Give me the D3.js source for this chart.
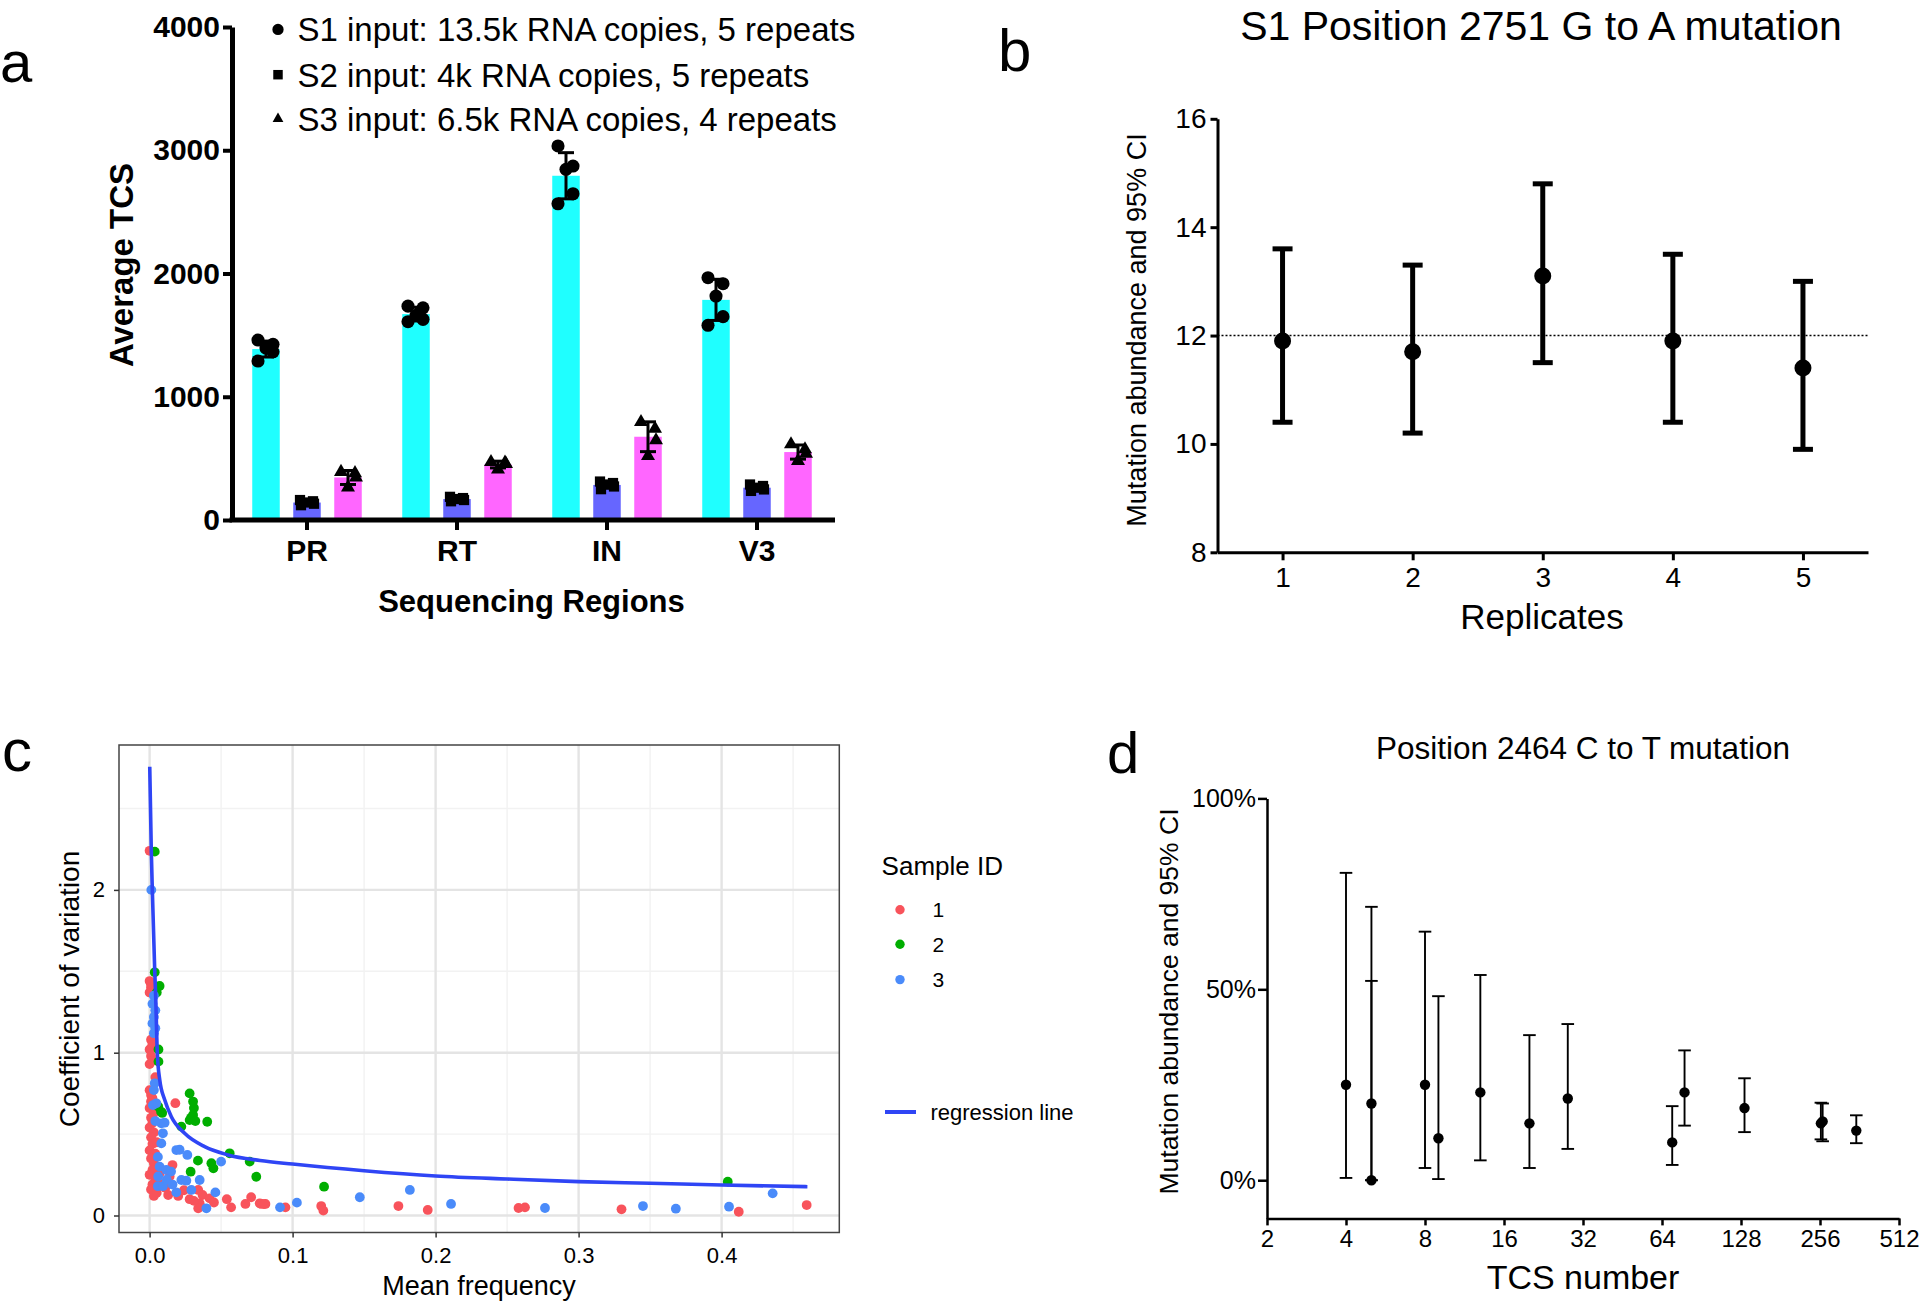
<!DOCTYPE html>
<html><head><meta charset="utf-8">
<script src="https://cdn.jsdelivr.net/npm/d3@7"></script>
<style>
body{margin:0;background:#fff}
svg{display:block}
text{font-family:"Liberation Sans",Arial,Helvetica,sans-serif;fill:#000}
</style>
</head><body>
<svg id="chart" width="1920" height="1305"></svg>
<script>
// ===================== DATA =====================
// Panel a
const regions = ["PR", "RT", "IN", "V3"];
const seriesA = ["S1", "S2", "S3"];
const legendA = ["S1 input: 13.5k RNA copies, 5 repeats",
                 "S2 input: 4k RNA copies, 5 repeats",
                 "S3 input: 6.5k RNA copies, 4 repeats"];
const s1Reps = [[1460, 1425, 1395, 1365, 1290], [1735, 1722, 1660, 1628, 1609],
                [3035, 2872, 2845, 2647, 2566], [1966, 1917, 1817, 1650, 1580]];
const s2Reps = [[162, 152, 142, 132, 120], [188, 178, 170, 162, 152],
                [312, 300, 288, 272, 250], [288, 276, 262, 248, 236]];
const s3Reps = [[390, 380, 345, 265], [470, 465, 455, 410],
                [795, 741, 647, 519], [614, 574, 538, 479]];
const yTicksA = [0, 1000, 2000, 3000, 4000];

// Panel b
const replicates = [1, 2, 3, 4, 5];
const abundB = [11.9, 11.7, 13.1, 11.9, 11.4];
const lowB   = [10.4, 10.2, 11.5, 10.4, 9.9];
const highB  = [13.6, 13.3, 14.8, 13.5, 13.0];
const refLineB = 12;
const yTicksB = [8, 10, 12, 14, 16];

// Panel c  [mean frequency, coefficient of variation]
const sample1 = [[0.000,2.24],[0.000,1.44],[0.001,1.40],[0.000,1.37],[0.001,1.42],
  [0.001,1.08],[0.002,1.05],[0.000,1.02],[0.001,0.98],[0.002,0.95],[0.000,0.93],
  [0.000,0.77],[0.001,0.74],[0.002,0.72],[0.001,0.70],[0.000,0.66],[0.003,0.63],
  [0.001,0.60],[0.002,0.57],[0.000,0.54],[0.003,0.51],[0.001,0.48],[0.002,0.44],
  [0.000,0.40],[0.004,0.38],[0.001,0.35],[0.003,0.32],[0.002,0.28],[0.000,0.25],
  [0.004,0.22],[0.002,0.19],[0.001,0.16],[0.005,0.14],[0.003,0.12],[0.006,0.20],
  [0.007,0.26],[0.018,0.69],[0.013,0.126],[0.020,0.12],[0.016,0.31],[0.014,0.24],
  [0.011,0.17],[0.034,0.157],[0.037,0.126],[0.035,0.075],[0.034,0.044],[0.042,0.105],
  [0.054,0.10],[0.057,0.05],[0.067,0.071],[0.071,0.112],[0.077,0.075],[0.080,0.07],
  [0.078,0.071],[0.081,0.071],[0.095,0.05],[0.120,0.058],[0.1215,0.030],[0.174,0.058],
  [0.1945,0.034],[0.258,0.046],[0.2625,0.05],[0.330,0.038],[0.412,0.023],[0.4595,0.064],
  [0.024,0.155],[0.028,0.10],[0.031,0.09],[0.045,0.08],[0.005,0.45],[0.004,0.85]];
const sample2 = [[0.0036,2.235],[0.0036,1.494],[0.007,1.41],[0.005,1.37],[0.0062,1.02],
  [0.0062,0.945],[0.008,0.638],[0.028,0.75],[0.0304,0.70],[0.031,0.66],[0.0304,0.617],
  [0.028,0.586],[0.029,0.60],[0.032,0.58],[0.0403,0.576],[0.0222,0.546],[0.0338,0.337],
  [0.0432,0.321],[0.0446,0.29],[0.056,0.382],[0.070,0.331],[0.0746,0.238],[0.0287,0.269],
  [0.122,0.177],[0.4043,0.208],[0.006,0.67],[0.0088,0.63]];
const sample3 = [[0.0012,2.0],[0.003,1.35],[0.002,1.30],[0.004,1.26],[0.003,1.22],
  [0.002,1.18],[0.004,1.15],[0.003,1.12],[0.0036,0.812],[0.003,0.771],[0.0047,0.689],
  [0.0023,0.678],[0.0082,0.566],[0.0105,0.57],[0.0093,0.505],[0.0082,0.443],[0.0187,0.402],
  [0.021,0.404],[0.0264,0.372],[0.050,0.331],[0.0058,0.36],[0.007,0.30],[0.0117,0.28],
  [0.015,0.27],[0.0058,0.18],[0.0093,0.18],[0.0222,0.218],[0.0257,0.214],[0.035,0.218],
  [0.0292,0.157],[0.0187,0.142],[0.046,0.142],[0.0397,0.044],[0.0912,0.05],[0.103,0.079],
  [0.147,0.112],[0.182,0.157],[0.2108,0.071],[0.2765,0.046],[0.345,0.058],[0.368,0.042],
  [0.4052,0.054],[0.4357,0.136],[0.006,0.24],[0.004,0.58],[0.012,0.22],[0.016,0.19]];
const regressionC = [[0.0001,2.757],[0.0012,2.235],[0.0019,2.0],[0.0036,1.50],[0.0042,1.36],
  [0.0054,0.996],[0.0071,0.832],[0.0106,0.709],[0.0152,0.607],[0.0245,0.505],[0.0385,0.423],
  [0.0548,0.372],[0.0772,0.338],[0.1,0.316],[0.15,0.275],[0.2,0.243],[0.25,0.224],
  [0.3,0.208],[0.35,0.198],[0.4,0.187],[0.46,0.177]];
const sampleIds = ["1", "2", "3"];
const xTicksC = [0, 0.1, 0.2, 0.3, 0.4];
const yTicksC = [0, 1, 2];

// Panel d
const tcsD   = [4, 5, 5, 8, 9, 13, 20, 28, 70, 78, 132, 258, 262, 352];
const abundD = [25, 20.1, 0, 25, 11, 23, 14.9, 21.4, 9.9, 23, 18.9, 14.9, 15.4, 13];
const lowD   = [0.6, 0, 0, 3.2, 0.3, 5.2, 3.2, 8.2, 4, 14.3, 12.6, 10.7, 10.2, 9.7];
const highD  = [80.5, 71.6, 52.2, 65.1, 48.2, 53.75, 38, 40.9, 19.4, 34, 26.7, 20.3, 20.1, 17];
const xTicksD = [2, 4, 8, 16, 32, 64, 128, 256, 512];
const yTicksD = [0, 50, 100];

// ===================== DRAWING =====================
const svg = d3.select("#chart");

function styleAxis(g, opts) {
  g.select(".domain").attr("stroke", opts.color || "#000").attr("stroke-width", opts.domainW);
  g.selectAll(".tick line").attr("stroke", opts.color || "#000").attr("stroke-width", opts.tickW);
  g.selectAll(".tick text").attr("font-family", null).attr("font-size", opts.fontSize)
    .attr("font-weight", opts.bold ? "bold" : "normal").attr("fill", opts.textColor || "#000");
}
function label(t, x, y, size, opts = {}) {
  return svg.append("text").attr("x", x).attr("y", y).attr("font-size", size)
    .attr("text-anchor", opts.anchor || "middle")
    .attr("font-weight", opts.bold ? "bold" : "normal")
    .attr("fill", opts.fill || "#000").text(t);
}
function vlabel(t, cx, cy, size, opts = {}) {
  return svg.append("text").attr("transform", `translate(${cx},${cy}) rotate(-90)`)
    .attr("y", size * 0.36).attr("font-size", size).attr("text-anchor", "middle")
    .attr("font-weight", opts.bold ? "bold" : "normal").attr("fill", opts.fill || "#000").text(t);
}

// ---------- Panel a ----------
(function () {
  const g = svg.append("g");
  const xA = d3.scaleBand().domain(regions).range([232, 832]);
  const xSub = d3.scaleBand().domain(seriesA).range([-61.5, 61.5]).paddingInner(0.329).paddingOuter(0.1645);
  const yA = d3.scaleLinear().domain([0, 4000]).range([520, 27]);
  const colors = { S1: "#1FFFFF", S2: "#6666FF", S3: "#FF66FF" };
  const reps = { S1: s1Reps, S2: s2Reps, S3: s3Reps };
  const symbols = { S1: d3.symbol(d3.symbolCircle, 135), S2: d3.symbol(d3.symbolSquare, 105), S3: d3.symbol(d3.symbolTriangle, 85) };
  const offsets = { S1: [-8, 7, 0, 7, -8], S2: [-7, 6, 0, 7, -6], S3: [-7, 7, 8, 0] };

  regions.forEach((r, i) => {
    const cx0 = xA(r) + xA.bandwidth() / 2;
    seriesA.forEach(s => {
      const vals = reps[s][i];
      const m = d3.mean(vals), sd = d3.deviation(vals);
      const x0 = cx0 + xSub(s), cx = x0 + xSub.bandwidth() / 2;
      g.append("rect").attr("x", x0).attr("width", xSub.bandwidth())
        .attr("y", yA(m)).attr("height", yA(0) - yA(m)).attr("fill", colors[s]);
      const eb = g.append("g").attr("stroke", "#000").attr("stroke-width", 3);
      eb.append("line").attr("x1", cx).attr("x2", cx).attr("y1", yA(m - sd)).attr("y2", yA(m + sd));
      [m - sd, m + sd].forEach(v => eb.append("line").attr("x1", cx - 8).attr("x2", cx + 8).attr("y1", yA(v)).attr("y2", yA(v)));
      const sorted = vals.slice().sort((a, b) => b - a);
      sorted.forEach((v, k) => {
        g.append("path").attr("d", symbols[s]())
          .attr("transform", `translate(${cx + offsets[s][k]},${yA(v)})`).attr("fill", "#000");
      });
    });
  });

  const ay = g.append("g").attr("transform", "translate(232,0)")
    .call(d3.axisLeft(yA).tickValues(yTicksA).tickFormat(d3.format("d")).tickSize(9).tickPadding(3).tickSizeOuter(0));
  styleAxis(ay, { domainW: 5, tickW: 4, fontSize: 30, bold: true });
  const ax = g.append("g").attr("transform", "translate(0,520)")
    .call(d3.axisBottom(xA).tickSize(10).tickPadding(10).tickSizeOuter(0));
  ax.select(".domain").remove();
  styleAxis(ax, { domainW: 5, tickW: 4, fontSize: 30, bold: true });
  g.append("line").attr("x1", 229.5).attr("x2", 835).attr("y1", 520).attr("y2", 520)
    .attr("stroke", "#000").attr("stroke-width", 5);

  const legY = [29.4, 74.7, 118.8];
  seriesA.forEach((s, k) => {
    const sym = { S1: d3.symbol(d3.symbolCircle, 100), S2: d3.symbol(d3.symbolSquare, 90), S3: d3.symbol(d3.symbolTriangle, 50) }[s];
    g.append("path").attr("d", sym()).attr("transform", `translate(278,${legY[k]})`).attr("fill", "#000");
    label(legendA[k], 297.5, legY[k] + 11.8, 33, { anchor: "start" });
  });
  vlabel("Average TCS", 121, 265, 33, { bold: true });
  label("Sequencing Regions", 531.5, 612, 31, { bold: true });
  label("a", 0, 82, 58, { anchor: "start" });
})();

// ---------- Panel b ----------
(function () {
  const g = svg.append("g");
  const xB = d3.scaleLinear().domain([0.5, 5.5]).range([1217.5, 1868]);
  const yB = d3.scaleLinear().domain([8, 16]).range([552.3, 118.8]);
  g.append("line").attr("x1", xB(0.5)).attr("x2", xB(5.5)).attr("y1", yB(refLineB)).attr("y2", yB(refLineB))
    .attr("stroke", "#000").attr("stroke-width", 1.6).attr("stroke-dasharray", "2,2");
  replicates.forEach((r, i) => {
    const eb = g.append("g").attr("stroke", "#000").attr("stroke-width", 5);
    eb.append("line").attr("x1", xB(r)).attr("x2", xB(r)).attr("y1", yB(lowB[i])).attr("y2", yB(highB[i]));
    [lowB[i], highB[i]].forEach(v => eb.append("line").attr("x1", xB(r) - 10).attr("x2", xB(r) + 10).attr("y1", yB(v)).attr("y2", yB(v)));
    g.append("circle").attr("cx", xB(r)).attr("cy", yB(abundB[i])).attr("r", 8.5).attr("fill", "#000");
  });
  const ay = g.append("g").attr("transform", `translate(${xB(0.5)},0)`)
    .call(d3.axisLeft(yB).tickValues(yTicksB).tickFormat(d3.format("d")).tickSize(7).tickPadding(4).tickSizeOuter(0));
  styleAxis(ay, { domainW: 3, tickW: 3, fontSize: 28 });
  const ax = g.append("g").attr("transform", `translate(0,${yB(8)})`)
    .call(d3.axisBottom(xB).tickValues(replicates).tickFormat(d3.format("d")).tickSize(8).tickPadding(7).tickSizeOuter(0));
  styleAxis(ax, { domainW: 3, tickW: 3, fontSize: 28 });
  label("S1 Position 2751 G to A mutation", 1541, 40, 41);
  label("Replicates", 1542, 628.5, 35);
  vlabel("Mutation abundance and 95% CI", 1136, 330, 27);
  label("b", 998, 71, 60, { anchor: "start" });
})();

// ---------- Panel c ----------
(function () {
  const g = svg.append("g");
  const xC = d3.scaleLinear().domain([0, 0.4]).range([149.6, 721.6]);
  const yC = d3.scaleLinear().domain([0, 2]).range([1215.5, 889.9]);
  const L = 119, R = 839.3, T = 745, B = 1232.5;
  [0.05, 0.15, 0.25, 0.35, 0.45].forEach(v => g.append("line").attr("x1", xC(v)).attr("x2", xC(v)).attr("y1", T).attr("y2", B).attr("stroke", "#F2F2F2").attr("stroke-width", 1.4));
  [0.5, 1.5, 2.5].forEach(v => g.append("line").attr("y1", yC(v)).attr("y2", yC(v)).attr("x1", L).attr("x2", R).attr("stroke", "#F2F2F2").attr("stroke-width", 1.4));
  xTicksC.forEach(v => g.append("line").attr("x1", xC(v)).attr("x2", xC(v)).attr("y1", T).attr("y2", B).attr("stroke", "#E4E4E4").attr("stroke-width", 2.4));
  yTicksC.forEach(v => g.append("line").attr("y1", yC(v)).attr("y2", yC(v)).attr("x1", L).attr("x2", R).attr("stroke", "#E4E4E4").attr("stroke-width", 2.4));
  const colC = { "1": "#F8535B", "2": "#00AE00", "3": "#4A8BFA" };
  const sets = { "1": sample1, "2": sample2, "3": sample3 };
  sampleIds.forEach(id => {
    g.selectAll(null).data(sets[id]).enter().append("circle")
      .attr("cx", d => xC(d[0])).attr("cy", d => yC(d[1])).attr("r", 4.9).attr("fill", colC[id]);
  });
  const line = d3.line().x(d => xC(d[0])).y(d => yC(d[1])).curve(d3.curveMonotoneX);
  g.append("path").attr("d", line(regressionC)).attr("fill", "none").attr("stroke", "#2F45F5").attr("stroke-width", 3.6);
  g.append("rect").attr("x", L).attr("y", T).attr("width", R - L).attr("height", B - T)
    .attr("fill", "none").attr("stroke", "#444").attr("stroke-width", 1.5);
  const ax = g.append("g").attr("transform", `translate(0,${B})`)
    .call(d3.axisBottom(xC).tickValues(xTicksC).tickFormat(d3.format(".1f")).tickSize(5).tickPadding(10).tickSizeOuter(0));
  ax.select(".domain").remove();
  styleAxis(ax, { tickW: 1.5, fontSize: 22, color: "#333", textColor: "#4D4D4D" });
  const ay = g.append("g").attr("transform", `translate(${L},0)`)
    .call(d3.axisLeft(yC).tickValues(yTicksC).tickFormat(d3.format("d")).tickSize(5).tickPadding(9).tickSizeOuter(0));
  ay.select(".domain").remove();
  styleAxis(ay, { tickW: 1.5, fontSize: 22, color: "#333", textColor: "#4D4D4D" });
  label("Mean frequency", 479, 1295, 27);
  vlabel("Coefficient of variation", 69, 989, 28);
  label("Sample ID", 881.6, 875, 26, { anchor: "start" });
  const legY = [909.8, 944.2, 979.6];
  sampleIds.forEach((id, k) => {
    g.append("circle").attr("cx", 900).attr("cy", legY[k]).attr("r", 4.7).attr("fill", colC[id]);
    label(id, 932.5, legY[k] + 7.5, 21, { anchor: "start" });
  });
  g.append("line").attr("x1", 885).attr("x2", 916).attr("y1", 1112).attr("y2", 1112).attr("stroke", "#2F45F5").attr("stroke-width", 4);
  label("regression line", 930.5, 1119.5, 22, { anchor: "start" });
  label("c", 2, 771, 60, { anchor: "start" });
})();

// ---------- Panel d ----------
(function () {
  const g = svg.append("g");
  const xD = d3.scaleLog().base(2).domain([2, 512]).range([1267, 1899]);
  const yD = d3.scaleLinear().domain([-10, 100]).range([1218.4, 798.4]);
  tcsD.forEach((t, i) => {
    const eb = g.append("g").attr("stroke", "#000").attr("stroke-width", 1.9);
    eb.append("line").attr("x1", xD(t)).attr("x2", xD(t)).attr("y1", yD(lowD[i])).attr("y2", yD(highD[i]));
    [lowD[i], highD[i]].forEach(v => eb.append("line").attr("x1", xD(t) - 6.3).attr("x2", xD(t) + 6.3).attr("y1", yD(v)).attr("y2", yD(v)));
    g.append("circle").attr("cx", xD(t)).attr("cy", yD(abundD[i])).attr("r", 5.2).attr("fill", "#000");
  });
  const ay = g.append("g").attr("transform", "translate(1267,0)")
    .call(d3.axisLeft(yD).tickValues(yTicksD).tickFormat(d => d + "%").tickSize(9).tickPadding(2).tickSizeOuter(0));
  styleAxis(ay, { domainW: 2.5, tickW: 2.5, fontSize: 25 });
  const ax = g.append("g").attr("transform", "translate(0,1218.4)")
    .call(d3.axisBottom(xD).tickValues(xTicksD).tickFormat(d3.format("d")).tickSize(7).tickPadding(5).tickSizeOuter(0));
  styleAxis(ax, { domainW: 2.5, tickW: 2.5, fontSize: 24 });
  label("Position 2464 C to T mutation", 1583, 759, 31.5);
  label("TCS number", 1583, 1289, 34);
  vlabel("Mutation abundance and 95% CI", 1168, 1001.5, 26.5);
  label("d", 1107, 773, 58, { anchor: "start" });
})();
</script>
</body></html>
